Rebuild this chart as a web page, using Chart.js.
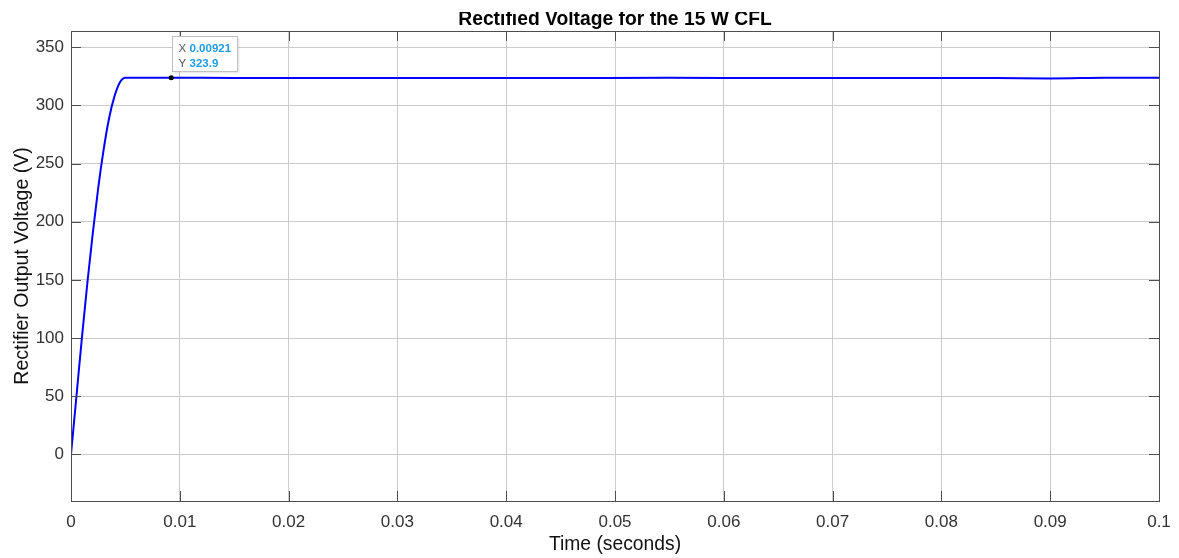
<!DOCTYPE html>
<html>
<head>
<meta charset="utf-8">
<script src="https://cdn.jsdelivr.net/npm/chart.js@4"></script>
<style>
  html, body { margin: 0; padding: 0; background: #fff; overflow: hidden; }
  #wrap { width: 1179px; height: 558px; position: relative; }
  canvas { display: block; }
</style>
</head>
<body>
<div id="wrap"><canvas id="voltageChart" width="1179" height="558"></canvas></div>
<script>
const chartTitle = "Rectified Voltage for the 15 W CFL";
const xAxisLabel = "Time (seconds)";
const yAxisLabel = "Rectifier Output Voltage (V)";

// time (s) and rectifier voltage (V)
const timeValues = [0, 0.0005, 0.001, 0.0015, 0.002, 0.0025, 0.003, 0.0035, 0.004, 0.0045, 0.005,
  0.00921, 0.015, 0.025, 0.035, 0.045, 0.055, 0.065, 0.075, 0.085, 0.09, 0.095, 0.1];
const voltageValues = [0, 50, 100, 147, 190, 229, 262, 289, 308, 320, 323.9,
  323.9, 323.6, 323.7, 323.5, 323.6, 323.8, 323.6, 323.7, 323.6, 323.2, 323.8, 323.9];

const xTicks = [0, 0.01, 0.02, 0.03, 0.04, 0.05, 0.06, 0.07, 0.08, 0.09, 0.1];
const yTicks = [0, 50, 100, 150, 200, 250, 300, 350];

const tipTime = 0.00921;
const tipVoltage = 323.9;

const fontFamily = "'Liberation Sans', Arial, sans-serif";
const axisColor = "#4d4d4d";

// title is clipped at the top in the original figure
const titlePlugin = {
  id: "clippedTitle",
  afterDraw(chart) {
    const ctx = chart.ctx;
    const area = chart.chartArea;
    ctx.save();
    ctx.beginPath();
    ctx.rect(0, 12, chart.width, 18);
    ctx.clip();
    ctx.font = "bold 19.3px " + fontFamily;
    ctx.fillStyle = "#000";
    ctx.textAlign = "center";
    ctx.textBaseline = "alphabetic";
    ctx.fillText(chartTitle, (area.left + area.right) / 2, 24.5);
    ctx.restore();
  }
};

// box outline + inward tick marks on all four sides
const boxPlugin = {
  id: "axesBox",
  afterDatasetsDraw(chart) {
    const ctx = chart.ctx;
    const a = chart.chartArea;
    const xs = chart.scales.x, ys = chart.scales.y;
    ctx.save();
    ctx.strokeStyle = axisColor;
    ctx.lineWidth = 1;
    ctx.beginPath();
    xTicks.forEach(v => {
      const px = Math.round(xs.getPixelForValue(v)) + 0.5;
      ctx.moveTo(px, a.bottom); ctx.lineTo(px, a.bottom - 10);
      ctx.moveTo(px, a.top); ctx.lineTo(px, a.top + 10);
    });
    yTicks.forEach(v => {
      const py = Math.round(ys.getPixelForValue(v)) + 0.5;
      ctx.moveTo(a.left, py); ctx.lineTo(a.left + 10, py);
      ctx.moveTo(a.right, py); ctx.lineTo(a.right - 10, py);
    });
    ctx.stroke();
    ctx.strokeRect(Math.round(a.left) + 0.5, Math.round(a.top) + 0.5,
      Math.round(a.right - a.left), Math.round(a.bottom - a.top));
    ctx.restore();
  }
};

// MATLAB style data tip
const dataTipPlugin = {
  id: "dataTip",
  afterDraw(chart) {
    const ctx = chart.ctx;
    const px = chart.scales.x.getPixelForValue(tipTime);
    const py = chart.scales.y.getPixelForValue(tipVoltage);
    const bx = Math.round(px) + 1.5, by = Math.round(py) - 41.5, bw = 65, bh = 35;
    ctx.save();
    ctx.fillStyle = "rgba(0,0,0,0.08)";
    ctx.fillRect(bx + 2, by + 2, bw, bh);
    ctx.fillStyle = "#fff";
    ctx.fillRect(bx, by, bw, bh);
    ctx.strokeStyle = "#c0c0c0";
    ctx.strokeRect(bx, by, bw, bh);
    ctx.textBaseline = "middle";
    ctx.font = "11.5px " + fontFamily;
    ctx.fillStyle = "#555";
    ctx.fillText("X", bx + 6, by + 12);
    ctx.fillText("Y", bx + 6, by + 27);
    ctx.font = "bold 11.5px " + fontFamily;
    ctx.fillStyle = "#1e9be6";
    ctx.fillText(String(tipTime), bx + 17, by + 12);
    ctx.fillText(String(tipVoltage), bx + 17, by + 27);
    ctx.beginPath();
    ctx.arc(px, py, 2.5, 0, Math.PI * 2);
    ctx.fillStyle = "#000";
    ctx.fill();
    ctx.restore();
  }
};

const points = timeValues.map((t, i) => ({ x: t, y: voltageValues[i] }));

new Chart(document.getElementById("voltageChart").getContext("2d"), {
  type: "line",
  data: {
    datasets: [{
      label: "Vout",
      data: points,
      borderColor: "#0000ff",
      borderWidth: 2,
      pointRadius: 0,
      cubicInterpolationMode: "monotone",
      fill: false
    }]
  },
  options: {
    responsive: false,
    animation: false,
    layout: { padding: { left: 0, top: 31, right: 20, bottom: 0 } },
    plugins: {
      legend: { display: false },
      tooltip: { enabled: false },
      title: { display: false }
    },
    scales: {
      x: {
        type: "linear",
        min: 0,
        max: 0.1,
        afterBuildTicks: s => { s.ticks = xTicks.map(v => ({ value: v })); },
        afterFit: s => { s.height = 57; s.paddingLeft = 0; s.paddingRight = 0; },
        border: { display: false },
        grid: { color: "#cccccc", drawTicks: false },
        ticks: {
          autoSkip: false,
          padding: 11,
          color: "#333",
          font: { family: fontFamily, size: 17 },
          maxRotation: 0,
          callback: v => String(Number(v.toFixed(2)))
        },
        title: {
          display: true,
          text: xAxisLabel,
          color: "#111",
          font: { family: fontFamily, size: 19.3 },
          padding: { top: 0, bottom: 2 }
        }
      },
      y: {
        min: -40,
        max: 364,
        afterBuildTicks: s => { s.ticks = yTicks.map(v => ({ value: v })); },
        afterFit: s => { s.width = 71; s.paddingTop = 0; s.paddingBottom = 0; },
        border: { display: false },
        grid: { color: "#cccccc", drawTicks: false },
        ticks: {
          autoSkip: false,
          padding: 7,
          color: "#333",
          font: { family: fontFamily, size: 17 }
        },
        title: {
          display: true,
          text: yAxisLabel,
          color: "#111",
          font: { family: fontFamily, size: 19.5 },
          padding: { top: 11, bottom: 0 }
        }
      }
    }
  },
  plugins: [boxPlugin, titlePlugin, dataTipPlugin]
});
</script>
</body>
</html>
